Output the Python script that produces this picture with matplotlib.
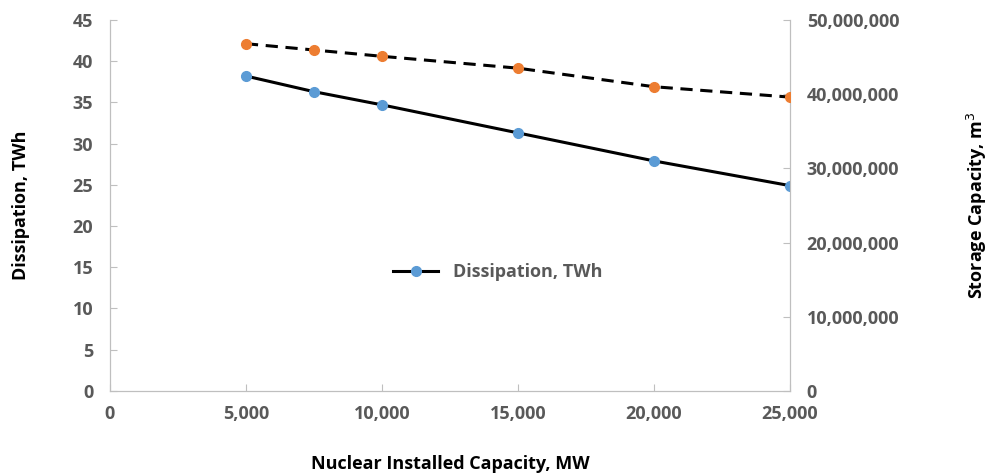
import matplotlib
matplotlib.use('Agg')
import matplotlib.pyplot as plt
from matplotlib.ticker import FuncFormatter

# Данные
capacity_mw = [5000, 7500, 10000, 15000, 20000, 25000]
dissipation_twh = [38.2, 36.3, 34.7, 31.3, 27.9, 24.9]
storage_m3 = [46.8e6, 45.95e6, 45.1e6, 43.5e6, 41.0e6, 39.6e6]

x_ticks = [0, 5000, 10000, 15000, 20000, 25000]
left_ticks = list(range(0, 50, 5))
right_ticks = [0, 10e6, 20e6, 30e6, 40e6, 50e6]

plt.rcParams['font.family'] = ['Open Sans', 'DejaVu Sans']

tick_color = '#595959'
spine_color = '#BFBFBF'
blue = '#5B9BD5'
orange = '#ED7D31'

fig = plt.figure(figsize=(9.9, 4.75), dpi=100)
ax = fig.add_axes([0.111, 0.177, 0.687, 0.781])
ax2 = ax.twinx()

ax.plot(capacity_mw, dissipation_twh, color='black', lw=2.2, marker='o',
        markersize=7, markerfacecolor=blue, markeredgecolor=blue,
        label='Dissipation, TWh', zorder=3)
ax2.plot(capacity_mw, storage_m3, color='black', lw=2.2, ls=(0, (4, 2.5)),
         marker='o', markersize=7, markerfacecolor=orange,
         markeredgecolor=orange, zorder=3)

ax.set_xlim(0, 25000)
ax.set_ylim(0, 45)
ax2.set_ylim(0, 50e6)
ax.set_xticks(x_ticks)
ax.set_yticks(left_ticks)
ax2.set_yticks(right_ticks)
ax.xaxis.set_major_formatter(FuncFormatter(lambda v, p: f'{v:,.0f}'))
ax2.yaxis.set_major_formatter(FuncFormatter(lambda v, p: f'{v:,.0f}'))

for a in (ax, ax2):
    for side in a.spines:
        a.spines[side].set_color(spine_color)
    a.spines['top'].set_visible(False)
    a.tick_params(direction='in', length=5, color=spine_color,
                  labelcolor=tick_color, labelsize=13)
    for lbl in a.get_xticklabels() + a.get_yticklabels():
        lbl.set_fontweight('bold')

ax.tick_params(axis='y', pad=12)
ax.tick_params(axis='x', pad=10)
ax2.tick_params(axis='y', pad=12)

ax.set_xlabel('Nuclear Installed Capacity, MW', fontsize=13, fontweight='bold')
ax.set_ylabel('Dissipation, TWh', fontsize=13, fontweight='bold')
ax2.set_ylabel('Storage Capacity, m$^3$', fontsize=13, fontweight='bold')
ax.xaxis.set_label_coords(0.5, -0.172)
ax.yaxis.set_label_coords(-0.118, 0.5)
ax2.yaxis.set_label_coords(1.257, 0.5)

leg = ax.legend(loc='center', bbox_to_anchor=(0.57, 0.32), frameon=False,
                fontsize=13, handlelength=2.5)
for t in leg.get_texts():
    t.set_color(tick_color)
    t.set_fontweight('bold')

fig.savefig('out.png', dpi=100)
